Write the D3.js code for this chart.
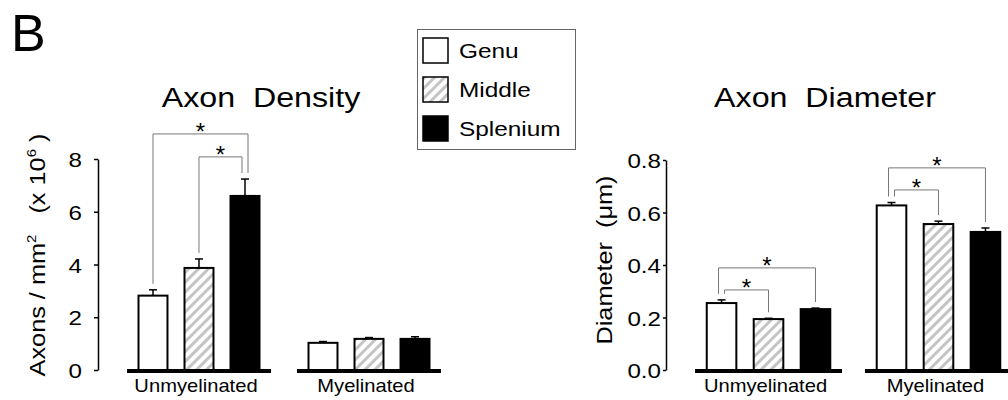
<!DOCTYPE html>
<html>
<head>
<meta charset="utf-8">
<script src="https://cdn.jsdelivr.net/npm/d3@7"></script>
<style>
  body { margin: 0; background: #fff; }
  svg { display: block; font-family: "Liberation Sans", Arial, sans-serif; }
</style>
</head>
<body>
<svg id="fig" width="1008" height="400"></svg>
<script>
const regions = ['Genu', 'Middle', 'Splenium'];
const fiberTypes = ['Unmyelinated', 'Myelinated'];

// rows follow fiberTypes, columns follow regions
const densityMean = [[2.82, 3.87, 6.6], [1.03, 1.18, 1.18]];
const densityErr = [[0.22, 0.34, 0.64], [0.05, 0.05, 0.08]];
const diameterMean = [[0.255, 0.194, 0.232], [0.627, 0.556, 0.526]];
const diameterErr = [[0.012, 0.003, 0.004], [0.011, 0.011, 0.015]];

const densityTicks = [0, 2, 4, 6, 8];
const diameterTicks = [0, 0.2, 0.4, 0.6, 0.8];

// significance brackets: fiber type, from region, to region, bracket height (data units)
const densitySig = [
  ['Unmyelinated', 'Genu', 'Splenium', 8.95],
  ['Unmyelinated', 'Middle', 'Splenium', 8.08]
];
const diameterSig = [
  ['Unmyelinated', 'Genu', 'Splenium', 0.389],
  ['Unmyelinated', 'Genu', 'Middle', 0.305],
  ['Myelinated', 'Genu', 'Splenium', 0.77],
  ['Myelinated', 'Genu', 'Middle', 0.686]
];

const SX = 1.15; // the figure is a bit wider than tall, text is stretched the same way
const svg = d3.select('#fig');

const defs = svg.append('defs');
defs.append('pattern')
  .attr('id', 'hatch')
  .attr('patternUnits', 'userSpaceOnUse')
  .attr('width', 7).attr('height', 7)
  .attr('patternTransform', 'rotate(45)')
  .call(p => {
    p.append('rect').attr('width', 7).attr('height', 7).attr('fill', '#fff');
    p.append('rect').attr('width', 3).attr('height', 7).attr('fill', '#c4c4c4');
  });

const fills = { Genu: '#fff', Middle: 'url(#hatch)', Splenium: '#000' };

function txt(g, x, y, s, size, anchor, sx = SX) {
  return g.append('text')
    .attr('transform', `translate(${x},${y}) scale(${sx},1)`)
    .attr('font-size', size)
    .attr('text-anchor', anchor || 'start')
    .style('white-space', 'pre')
    .text(s);
}

function drawPanel(o) {
  const g = svg.append('g');
  const y = d3.scaleLinear().domain(o.yDomain).range(o.yRange);
  const x0 = d3.scaleBand().domain(fiberTypes).range(o.xRange)
    .paddingInner(o.groupPad).paddingOuter(0);
  const x1 = d3.scaleBand().domain(regions).range([0, x0.bandwidth()])
    .paddingInner(0.37).paddingOuter(0.25);
  const bw = x1.bandwidth();
  const cx = (t, r) => x0(t) + x1(r) + bw / 2;

  // y axis
  const axis = d3.axisLeft(y).tickValues(o.ticks).tickFormat(d3.format(o.fmt))
    .tickSizeInner(o.tickSize).tickSizeOuter(0).tickPadding(o.tickPad);
  const ax = g.append('g').attr('transform', `translate(${o.axisX},0)`).call(axis);
  ax.attr('font-size', null).attr('font-family', null);
  ax.select('.domain').attr('stroke-width', 1.5);
  ax.selectAll('.tick line').attr('stroke-width', 1.5);
  ax.selectAll('.tick text').each(function () {
    const t = d3.select(this);
    const tx = +t.attr('x');
    t.attr('x', 0).attr('dy', '0.36em').attr('font-size', 21).attr('fill', '#000')
      .attr('transform', `translate(${tx},0) scale(${SX},1)`);
  });

  // bars
  const rows = [];
  fiberTypes.forEach((t, i) => regions.forEach((r, j) => {
    rows.push({ type: t, region: r, m: o.mean[i][j], e: o.err[i][j] });
  }));
  const top = (t, r) => {
    const d = rows.find(d => d.type === t && d.region === r);
    return y(d.m + d.e);
  };

  g.selectAll('rect.bar').data(rows).join('rect')
    .attr('class', 'bar')
    .attr('x', d => x0(d.type) + x1(d.region))
    .attr('y', d => y(d.m))
    .attr('width', bw)
    .attr('height', d => y(0) - y(d.m))
    .attr('fill', d => fills[d.region])
    .attr('stroke', '#000')
    .attr('stroke-width', 2);

  // error bars (upper only)
  const eb = g.selectAll('g.err').data(rows).join('g').attr('class', 'err')
    .attr('stroke', '#000').attr('stroke-width', 1.5);
  eb.append('line')
    .attr('x1', d => cx(d.type, d.region)).attr('x2', d => cx(d.type, d.region))
    .attr('y1', d => y(d.m)).attr('y2', d => y(d.m + d.e));
  eb.append('line')
    .attr('x1', d => cx(d.type, d.region) - 4).attr('x2', d => cx(d.type, d.region) + 4)
    .attr('y1', d => y(d.m + d.e)).attr('y2', d => y(d.m + d.e));

  // thick baseline under each group
  g.selectAll('line.base').data(fiberTypes).join('line')
    .attr('class', 'base')
    .attr('x1', d => x0(d)).attr('x2', d => x0(d) + x0.bandwidth())
    .attr('y1', y(0) + 1).attr('y2', y(0) + 1)
    .attr('stroke', '#000').attr('stroke-width', 4);

  fiberTypes.forEach(t => txt(g, x0(t) + x0.bandwidth() / 2 - 3, y(0) + 22, t, 18, 'middle', 1.12));

  // significance brackets
  o.sig.forEach(s => {
    const [t, a, b, lvl] = s;
    let xa = cx(t, a), xb = cx(t, b);
    o.sig.forEach(other => {
      if (other === s || other[0] !== t) return;
      const outer = lvl > other[3] ? 1 : -1;
      if (other[1] === a) xa -= 3 * outer;
      if (other[2] === b) xb += 3 * outer;
    });
    const yt = y(lvl);
    g.append('path')
      .attr('d', `M${xa},${top(t, a) - 6}V${yt}H${xb}V${top(t, b) - 6}`)
      .attr('fill', 'none').attr('stroke', '#777').attr('stroke-width', 1);
    txt(g, (xa + xb) / 2, yt + 6, '*', 24, 'middle', 1);
  });

  txt(g, o.titleX, 107, o.title, 28, 'middle');
  return g;
}

const left = drawPanel({
  mean: densityMean, err: densityErr, sig: densitySig, ticks: densityTicks, fmt: 'd',
  yDomain: [0, 8], yRange: [370, 159], xRange: [127, 441], groupPad: 0.153,
  axisX: 98, tickSize: 4, tickPad: 12, title: 'Axon\u00a0\u00a0Density', titleX: 261
});

const right = drawPanel({
  mean: diameterMean, err: diameterErr, sig: diameterSig, ticks: diameterTicks, fmt: '.1f',
  yDomain: [0, 0.8], yRange: [370, 160], xRange: [695, 1012], groupPad: 0.135,
  axisX: 666, tickSize: 3, tickPad: 2, title: 'Axon\u00a0\u00a0Diameter', titleX: 825
});

// y axis titles
left.append('text')
  .attr('transform', `translate(45,255) rotate(-90) scale(${SX},1)`)
  .attr('font-size', 22).attr('text-anchor', 'middle')
  .call(t => {
    t.append('tspan').text('Axons / mm');
    t.append('tspan').attr('font-size', 13).attr('dy', -9).text('2');
    t.append('tspan').attr('dy', 9).text('\u00a0\u00a0\u00a0(x 10');
    t.append('tspan').attr('font-size', 13).attr('dy', -9).text('6');
    t.append('tspan').attr('dy', 9).text('\u00a0)');
  });

right.append('text')
  .attr('transform', `translate(612,260) rotate(-90) scale(${SX},1)`)
  .attr('font-size', 22).attr('text-anchor', 'middle')
  .text('Diameter\u00a0\u00a0(\u03bcm)');

// panel letter
svg.append('text').attr('x', 11).attr('y', 51).attr('font-size', 52).text('B');

// legend
const lg = svg.append('g');
lg.append('rect').attr('x', 417.5).attr('y', 29.5).attr('width', 158).attr('height', 120)
  .attr('fill', '#fff').attr('stroke', '#666').attr('stroke-width', 1);
const li = lg.selectAll('g.item').data(regions).join('g').attr('class', 'item')
  .attr('transform', (d, i) => `translate(423,${38 + i * 39})`);
li.append('rect').attr('width', 25).attr('height', 25)
  .attr('fill', d => fills[d]).attr('stroke', '#000').attr('stroke-width', 1.5);
li.each(function (d) { txt(d3.select(this), 36, 20, d, 20, 'start', 1.22); });
</script>
</body>
</html>
